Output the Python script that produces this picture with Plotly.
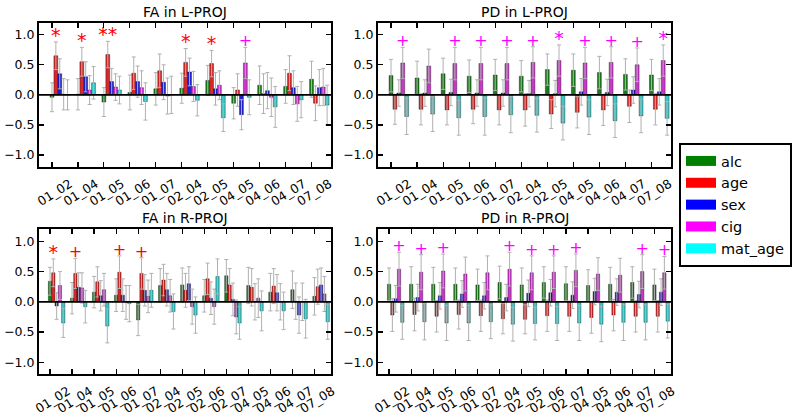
import plotly.graph_objects as go

# ---------------- data ----------------
series = ["alc", "age", "sex", "cig", "mat_age"]
colors = ["#008000", "#ff0000", "#0000ff", "#ff00ff", "#00ffff"]
bar_colors = ["#1e7a1e", "#d42a2a", "#2020cc", "#c838c8", "#3cc8c8"]

cats_top = ["01_02", "01_04", "01_05", "01_06", "01_07", "02_04", "02_05",
            "04_05", "04_06", "04_07", "07_08"]
cats_bot = ["01_02", "01_04", "01_05", "01_06", "01_07", "02_04", "02_05",
            "02_06", "02_07", "04_05", "04_06", "04_07", "07_08"]

# FA in L-PROJ
fa_l_alc = [-0.04, 0.01, -0.12, 0.04, 0.10, 0.11, 0.24, -0.14, 0.16, 0.14, 0.26]
fa_l_age = [0.65, 0.55, 0.67, 0.36, 0.40, 0.54, 0.52, 0.08, 0.02, 0.36, -0.14]
fa_l_sex = [0.35, 0.30, 0.22, 0.22, 0.21, 0.38, 0.10, -0.33, 0.07, 0.12, 0.12]
fa_l_cig = [0.01, 0.08, 0.13, 0.12, -0.02, 0.14, 0.16, 0.53, -0.04, -0.15, 0.13]
fa_l_mat = [0.00, 0.20, 0.08, -0.11, 0.00, -0.09, -0.38, -0.04, -0.20, -0.08, -0.17]
fa_l_alc_err = [0.24, 0.26, 0.24, 0.29, 0.27, 0.25, 0.25, 0.26, 0.32, 0.28, 0.30]
fa_l_age_err = [0.23, 0.24, 0.22, 0.27, 0.28, 0.23, 0.22, 0.27, 0.33, 0.29, 0.29]
fa_l_sex_err = [0.25, 0.25, 0.22, 0.26, 0.29, 0.23, 0.27, 0.25, 0.30, 0.28, 0.30]
fa_l_cig_err = [0.26, 0.24, 0.22, 0.28, 0.30, 0.25, 0.24, 0.26, 0.32, 0.29, 0.31]
fa_l_mat_err = [0.25, 0.27, 0.23, 0.31, 0.31, 0.26, 0.23, 0.29, 0.34, 0.30, 0.33]
fa_l_marks = [("01_02", "age", "*"), ("01_04", "age", "*"), ("01_05", "age", "**"),
              ("02_04", "age", "*"), ("02_05", "age", "*"), ("04_05", "cig", "+")]

# PD in L-PROJ
pd_l_alc = [0.32, 0.28, 0.35, 0.31, 0.33, 0.31, 0.42, 0.41, 0.37, 0.34, 0.33]
pd_l_age = [-0.24, -0.24, -0.25, -0.24, -0.25, -0.25, -0.32, -0.29, -0.25, -0.19, -0.24]
pd_l_sex = [0.03, 0.03, 0.04, 0.03, 0.03, 0.02, 0.02, 0.05, 0.04, 0.08, 0.05]
pd_l_cig = [0.53, 0.48, 0.52, 0.52, 0.52, 0.54, 0.57, 0.53, 0.54, 0.50, 0.57]
pd_l_mat = [-0.36, -0.32, -0.38, -0.36, -0.33, -0.34, -0.47, -0.37, -0.43, -0.35, -0.39]
pd_l_alc_err = [0.27, 0.28, 0.26, 0.27, 0.26, 0.26, 0.26, 0.27, 0.27, 0.26, 0.26]
pd_l_age_err = [0.25, 0.26, 0.25, 0.24, 0.25, 0.27, 0.24, 0.26, 0.26, 0.27, 0.26]
pd_l_sex_err = [0.22, 0.22, 0.22, 0.22, 0.22, 0.22, 0.22, 0.22, 0.22, 0.22, 0.22]
pd_l_cig_err = [0.26, 0.28, 0.27, 0.27, 0.27, 0.26, 0.26, 0.26, 0.26, 0.28, 0.26]
pd_l_mat_err = [0.30, 0.29, 0.29, 0.31, 0.30, 0.28, 0.28, 0.29, 0.28, 0.28, 0.28]
pd_l_marks = [("01_02", "cig", "+"), ("01_05", "cig", "+"), ("01_06", "cig", "+"),
              ("01_07", "cig", "+"), ("02_04", "cig", "+"), ("02_05", "cig", "*"),
              ("04_05", "cig", "+"), ("04_06", "cig", "+"), ("04_07", "cig", "+"),
              ("07_08", "cig", "*")]

# FA in R-PROJ
fa_r_alc = [0.34, 0.06, 0.16, 0.11, -0.30, 0.27, 0.28, 0.10, 0.43, 0.27, 0.16, 0.20, 0.09]
fa_r_age = [0.48, 0.47, 0.33, 0.49, 0.47, 0.36, 0.19, 0.38, 0.28, 0.24, 0.26, 0.01, 0.25]
fa_r_sex = [-0.07, 0.24, 0.10, 0.11, 0.19, 0.20, 0.30, 0.06, 0.04, 0.00, 0.15, -0.22, 0.28]
fa_r_cig = [0.27, 0.23, 0.20, -0.01, 0.09, 0.10, -0.08, -0.08, -0.25, 0.06, 0.00, 0.00, 0.13]
fa_r_mat = [-0.35, -0.08, -0.40, -0.03, 0.19, -0.16, -0.22, 0.42, -0.35, -0.15, -0.15, -0.28, -0.33]
fa_r_alc_err = [0.23, 0.26, 0.26, 0.27, 0.26, 0.28, 0.28, 0.27, 0.27, 0.30, 0.31, 0.31, 0.31]
fa_r_age_err = [0.23, 0.25, 0.25, 0.27, 0.26, 0.26, 0.28, 0.26, 0.27, 0.31, 0.29, 0.30, 0.29]
fa_r_sex_err = [0.22, 0.24, 0.25, 0.27, 0.26, 0.27, 0.28, 0.27, 0.27, 0.30, 0.30, 0.30, 0.28]
fa_r_cig_err = [0.23, 0.25, 0.27, 0.28, 0.27, 0.27, 0.29, 0.29, 0.28, 0.32, 0.30, 0.31, 0.29]
fa_r_mat_err = [0.24, 0.27, 0.28, 0.30, 0.28, 0.29, 0.30, 0.29, 0.27, 0.33, 0.31, 0.32, 0.29]
fa_r_marks = [("01_02", "age", "*"), ("01_04", "age", "+"), ("01_06", "age", "+"),
              ("01_07", "age", "+")]

# PD in R-PROJ
pd_r_alc = [0.29, 0.29, 0.29, 0.29, 0.28, 0.32, 0.28, 0.32, 0.30, 0.27, 0.29, 0.32, 0.28]
pd_r_age = [-0.22, -0.21, -0.24, -0.21, -0.23, -0.28, -0.29, -0.23, -0.24, -0.26, -0.22, -0.24, -0.24]
pd_r_sex = [0.05, 0.07, 0.10, 0.13, 0.10, 0.07, 0.14, 0.15, 0.11, 0.17, 0.16, 0.12, 0.16]
pd_r_cig = [0.54, 0.49, 0.51, 0.46, 0.48, 0.54, 0.48, 0.49, 0.52, 0.46, 0.44, 0.50, 0.48]
pd_r_mat = [-0.34, -0.33, -0.35, -0.35, -0.33, -0.37, -0.36, -0.36, -0.35, -0.37, -0.34, -0.34, -0.32]
pd_r_alc_err = [0.27, 0.29, 0.28, 0.27, 0.26, 0.27, 0.28, 0.26, 0.28, 0.26, 0.28, 0.26, 0.26]
pd_r_age_err = [0.27, 0.27, 0.26, 0.24, 0.26, 0.25, 0.24, 0.26, 0.25, 0.26, 0.26, 0.26, 0.26]
pd_r_sex_err = [0.22, 0.22, 0.22, 0.22, 0.22, 0.22, 0.22, 0.22, 0.22, 0.22, 0.22, 0.22, 0.22]
pd_r_cig_err = [0.28, 0.29, 0.28, 0.28, 0.28, 0.28, 0.28, 0.27, 0.27, 0.27, 0.28, 0.28, 0.27]
pd_r_mat_err = [0.28, 0.30, 0.29, 0.29, 0.28, 0.28, 0.27, 0.28, 0.29, 0.29, 0.30, 0.29, 0.28]
pd_r_marks = [("01_02", "cig", "+"), ("01_04", "cig", "+"), ("01_05", "cig", "+"),
              ("02_04", "cig", "+"), ("02_05", "cig", "+"), ("02_06", "cig", "+"),
              ("02_07", "cig", "+"), ("04_07", "cig", "+"), ("07_08", "cig", "+")]

y_ticks = [-1.0, -0.5, 0.0, 0.5, 1.0]
y_tick_text = ["\u22121.0", "\u22120.5", "0.0", "0.5", "1.0"]

panels = [
    dict(title="FA in L-PROJ", cats=cats_top,
         vals=[fa_l_alc, fa_l_age, fa_l_sex, fa_l_cig, fa_l_mat],
         errs=[fa_l_alc_err, fa_l_age_err, fa_l_sex_err, fa_l_cig_err, fa_l_mat_err],
         marks=fa_l_marks, xa="x", ya="y", xd=[39, 331], yd=[22.7, 167]),
    dict(title="PD in L-PROJ", cats=cats_top,
         vals=[pd_l_alc, pd_l_age, pd_l_sex, pd_l_cig, pd_l_mat],
         errs=[pd_l_alc_err, pd_l_age_err, pd_l_sex_err, pd_l_cig_err, pd_l_mat_err],
         marks=pd_l_marks, xa="x2", ya="y2", xd=[378, 671], yd=[22.7, 167]),
    dict(title="FA in R-PROJ", cats=cats_bot,
         vals=[fa_r_alc, fa_r_age, fa_r_sex, fa_r_cig, fa_r_mat],
         errs=[fa_r_alc_err, fa_r_age_err, fa_r_sex_err, fa_r_cig_err, fa_r_mat_err],
         marks=fa_r_marks, xa="x3", ya="y3", xd=[39, 331], yd=[229.3, 374.3]),
    dict(title="PD in R-PROJ", cats=cats_bot,
         vals=[pd_r_alc, pd_r_age, pd_r_sex, pd_r_cig, pd_r_mat],
         errs=[pd_r_alc_err, pd_r_age_err, pd_r_sex_err, pd_r_cig_err, pd_r_mat_err],
         marks=pd_r_marks, xa="x4", ya="y4", xd=[378, 671], yd=[229.3, 374.3]),
]

# ---------------- figure ----------------
W, H = 800, 417
BW = 0.15  # bar width in category units
FONT = "DejaVu Sans"
MARK_SIZE = {"*": 19, "**": 19, "+": 16}

fig = go.Figure()
layout = dict(
    width=W, height=H, autosize=False,
    margin=dict(l=0, r=0, t=0, b=0, autoexpand=False),
    paper_bgcolor="white", plot_bgcolor="white",
    barmode="overlay", showlegend=True,
    font=dict(family=FONT, color="black", size=12.5),
    legend=dict(x=679 / W, y=1 - 143 / H, xanchor="left", yanchor="top",
                bordercolor="black", borderwidth=2, bgcolor="white",
                font=dict(family=FONT, size=14.5, color="black"),
                tracegroupgap=0, itemwidth=30),
    shapes=[], annotations=[],
)

for p in panels:
    n = len(p["cats"])
    xs = list(range(n))
    for k, name in enumerate(series):
        fig.add_trace(go.Bar(
            x=[i + k * BW for i in xs], y=p["vals"][k], width=BW,
            marker=dict(color=bar_colors[k], line=dict(color="rgba(0,0,0,0.6)", width=0.6)),
            error_y=dict(type="data", array=p["errs"][k], visible=True,
                         color="#b0b0b0", thickness=1, width=2),
            name=name, showlegend=False, xaxis=p["xa"], yaxis=p["ya"],
        ))
    # significance markers
    for (cat, ser, sym) in p["marks"]:
        i = p["cats"].index(cat)
        k = series.index(ser)
        ytop = p["vals"][k][i] + p["errs"][k][i]
        fig.add_trace(go.Scatter(
            x=[i + k * BW], y=[ytop + 0.085], mode="text", text=[sym],
            textposition="middle center",
            textfont=dict(family=FONT, size=MARK_SIZE[sym], color=colors[k]),
            showlegend=False, hoverinfo="skip", xaxis=p["xa"], yaxis=p["ya"],
        ))
    xkey = "xaxis" + p["xa"][1:]
    ykey = "yaxis" + p["ya"][1:]
    layout[xkey] = dict(
        domain=[p["xd"][0] / W, p["xd"][1] / W], anchor=p["ya"],
        range=[-0.5, n - 0.25], tickmode="array", tickvals=xs, ticktext=p["cats"],
        tickangle=-32, ticks="inside", ticklen=5, tickwidth=1.2, tickcolor="black",
        showline=True, linecolor="black", linewidth=2, mirror="ticks",
        showgrid=False, zeroline=False, fixedrange=True, automargin=False,
        tickfont=dict(family=FONT, size=12.5, color="black"),
        ticklabelshift=18, ticklabelstandoff=3,
    )
    layout[ykey] = dict(
        domain=[1 - p["yd"][1] / H, 1 - p["yd"][0] / H], anchor=p["xa"],
        range=[-1.2, 1.2], tickmode="array", tickvals=y_ticks, ticktext=y_tick_text,
        ticks="inside", ticklen=5, tickwidth=1.2, tickcolor="black",
        showline=True, linecolor="black", linewidth=2, mirror="ticks",
        showgrid=False, zeroline=False, fixedrange=True, automargin=False,
        tickfont=dict(family=FONT, size=12.5, color="black"),
    )
    layout["shapes"].append(dict(
        type="line", xref=p["xa"] + " domain", yref=p["ya"], x0=0, x1=1, y0=0, y1=0,
        line=dict(color="black", width=1.8), layer="above"))
    layout["annotations"].append(dict(
        text=p["title"], xref=p["xa"] + " domain", yref=p["ya"] + " domain",
        x=0.5, y=1, xanchor="center", yanchor="bottom", yshift=1, showarrow=False,
        font=dict(family=FONT, size=14, color="black")))

# legend entries (patches)
for k, name in enumerate(series):
    fig.add_trace(go.Scatter(
        x=[None], y=[None], mode="lines", name=name,
        line=dict(color=colors[k], width=10), legendgroup=name,
        showlegend=True, xaxis="x", yaxis="y", hoverinfo="skip",
    ))

fig.update_layout(**layout)
fig.write_html(
    "out.html",
    config={"displayModeBar": False, "staticPlot": True},
    post_script="document.body.style.margin='0';document.body.style.overflow='hidden';",
)
